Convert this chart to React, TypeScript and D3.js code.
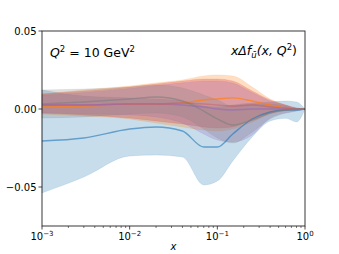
import { useEffect, useRef } from 'react';
import * as d3 from 'd3';

// shared x grid
const xGrid = [1e-3, 3e-3, 1e-2, 2e-2, 4e-2, 7e-2, 1e-1, 0.15, 0.25, 0.4, 0.6, 0.8, 1];

const blueUp = [0.0122, 0.0083, 0.0071, 0.0064, 0.0051, 0.0019, 0.0013, 0.0026, 0.0038, 0.0045, 0.0051, 0.0045, 0];
const blueMid = [-0.0205, -0.0186, -0.0128, -0.0115, -0.0141, -0.0244, -0.0244, -0.016, -0.0064, -0.0019, -0.0006, -0.0006, 0];
const blueLo = [-0.0538, -0.0436, -0.0301, -0.0295, -0.0308, -0.0487, -0.0462, -0.0333, -0.0179, -0.0077, -0.006, -0.0083, 0];

const orangeUp = [0.0096, 0.0122, 0.0147, 0.0167, 0.0186, 0.0212, 0.0218, 0.0212, 0.0141, 0.0064, 0.0026, 0.0006, 0];
const orangeMid = [0.0013, 0.0019, 0.0026, 0.0026, 0.0038, 0.0058, 0.0064, 0.0071, 0.0051, 0.0026, 0.0006, 0, 0];
const orangeLo = [-0.0032, -0.0045, -0.0064, -0.009, -0.0115, -0.0135, -0.0141, -0.0128, -0.0083, -0.0032, -0.0013, -0.0006, 0];

const redUp = [0.0096, 0.0115, 0.0141, 0.016, 0.0179, 0.0192, 0.0192, 0.0179, 0.0115, 0.0058, 0.0026, 0.0006, 0];
const redMid = [0.0026, 0.0026, 0.0032, 0.0032, 0.0038, 0.0032, 0.0026, 0.0019, 0.0026, 0.0013, 0.0006, 0, 0];
const redLo = [-0.0026, -0.0038, -0.0058, -0.0077, -0.0096, -0.0115, -0.0122, -0.0115, -0.0064, -0.0026, -0.0006, -0.0003, 0];

const purpleUp = [0.0088, 0.0106, 0.0132, 0.0150, 0.0168, 0.0180, 0.0180, 0.0166, 0.0105, 0.0052, 0.0024, 0.0005, 0];
const purpleMid = [0.0026, 0.0026, 0.0032, 0.0032, 0.0026, 0.0013, 0, -0.0006, 0, 0, 0, 0, 0];
const purpleLo = [-0.0026, -0.0032, -0.0038, -0.0051, -0.009, -0.016, -0.0199, -0.0212, -0.0167, -0.0058, -0.0026, -0.0013, 0];

const grayUp = [0.0122, 0.0128, 0.0141, 0.0154, 0.0135, 0.009, 0.0058, 0.0019, 0.0032, 0.0032, 0.0019, 0.0006, 0];
const grayMid = [0.0032, 0.0045, 0.0064, 0.0077, 0.0051, -0.0013, -0.0064, -0.0103, -0.0071, -0.0026, -0.0006, 0, 0];
const grayLo = [-0.0058, -0.0051, -0.0032, -0.0026, -0.0051, -0.0128, -0.0186, -0.0218, -0.0147, -0.0064, -0.0026, -0.0013, 0];

const yTicks = [-0.05, 0, 0.05];
const xTicks = [1e-3, 1e-2, 1e-1, 1];
const xTickExp = ['−3', '−2', '−1', '0'];

const bands = [
  { color: '#1f77b4', up: blueUp, mid: blueMid, lo: blueLo, lineOp: 0.6 },
  { color: '#ff7f0e', up: orangeUp, mid: orangeMid, lo: orangeLo, lineOp: 0.7 },
  { color: '#d62728', up: redUp, mid: redMid, lo: redLo, lineOp: 0.25 },
  { color: '#9467bd', up: purpleUp, mid: purpleMid, lo: purpleLo, lineOp: 0.6 },
  { color: '#7f7f7f', up: grayUp, mid: grayMid, lo: grayLo, lineOp: 0.6 },
];

export default function App() {
  const ref = useRef<SVGSVGElement>(null);

  useEffect(() => {
    const svg = d3.select(ref.current);
    svg.selectAll('*').remove();

    const margin = { left: 42, right: 34, top: 31, bottom: 28 };
    const W = 339, H = 254;

    const x = d3.scaleLog().domain([1e-3, 1]).range([margin.left, W - margin.right]);
    const y = d3.scaleLinear().domain([-0.075, 0.05]).range([H - margin.bottom, margin.top]);

    const plot = svg.append('g');

    bands.forEach(b => {
      const area = d3.area<number>()
        .x((d, i) => x(xGrid[i]))
        .y0((d, i) => y(b.lo[i]))
        .y1((d, i) => y(b.up[i]))
        .curve(d3.curveMonotoneX);
      plot.append('path')
        .attr('d', area(xGrid))
        .attr('fill', b.color)
        .attr('fill-opacity', 0.25)
        .attr('stroke', b.color)
        .attr('stroke-opacity', 0.15)
        .attr('stroke-width', 0.8);
    });

    bands.forEach(b => {
      const line = d3.line<number>()
        .x((d, i) => x(xGrid[i]))
        .y((d, i) => y(b.mid[i]))
        .curve(d3.curveMonotoneX);
      plot.append('path')
        .attr('d', line(xGrid))
        .attr('fill', 'none')
        .attr('stroke', b.color)
        .attr('stroke-opacity', b.lineOp)
        .attr('stroke-width', 1.4);
    });

    // frame
    svg.append('rect')
      .attr('x', margin.left)
      .attr('y', margin.top)
      .attr('width', W - margin.left - margin.right)
      .attr('height', H - margin.top - margin.bottom)
      .attr('fill', 'none')
      .attr('stroke', '#222')
      .attr('stroke-width', 0.9);

    const font = 'DejaVu Sans, sans-serif';

    // y axis
    const yAx = svg.append('g');
    yTicks.forEach(t => {
      yAx.append('line')
        .attr('x1', margin.left - 3.5).attr('x2', margin.left)
        .attr('y1', y(t)).attr('y2', y(t))
        .attr('stroke', '#222').attr('stroke-width', 0.8);
      yAx.append('text')
        .attr('x', margin.left - 5.5)
        .attr('y', y(t))
        .attr('dy', '0.35em')
        .attr('text-anchor', 'end')
        .attr('font-family', font)
        .attr('font-size', 10)
        .text(t === 0 ? '0.00' : d3.format('.2f')(t).replace('-', '−'));
    });

    // x axis
    const xAx = svg.append('g');
    const yb = H - margin.bottom;
    for (let e = -3; e < 0; e++) {
      for (let k = 2; k <= 9; k++) {
        const v = k * Math.pow(10, e);
        xAx.append('line')
          .attr('x1', x(v)).attr('x2', x(v))
          .attr('y1', yb).attr('y2', yb + 2)
          .attr('stroke', '#222').attr('stroke-width', 0.6);
      }
    }
    xTicks.forEach((t, i) => {
      xAx.append('line')
        .attr('x1', x(t)).attr('x2', x(t))
        .attr('y1', yb).attr('y2', yb + 3.5)
        .attr('stroke', '#222').attr('stroke-width', 0.8);
      const tx = xAx.append('text')
        .attr('x', x(t))
        .attr('y', yb + 14)
        .attr('text-anchor', 'middle')
        .attr('font-family', font)
        .attr('font-size', 10);
      tx.append('tspan').text('10');
      tx.append('tspan').attr('dy', -4).attr('font-size', 7).text(xTickExp[i]);
    });

    svg.append('text')
      .attr('x', (x(1e-3) + x(1)) / 2)
      .attr('y', 250)
      .attr('text-anchor', 'middle')
      .attr('font-family', font)
      .attr('font-style', 'italic')
      .attr('font-size', 10)
      .text('x');

    // annotations
    const t1 = svg.append('text')
      .attr('x', 50).attr('y', 57)
      .attr('font-family', font)
      .attr('font-size', 12.5);
    t1.append('tspan').attr('font-style', 'italic').text('Q');
    t1.append('tspan').attr('dy', -5).attr('font-size', 8.5).text('2');
    t1.append('tspan').attr('dy', 5).text(' = 10 GeV');
    t1.append('tspan').attr('dy', -5).attr('font-size', 8.5).text('2');

    const t2 = svg.append('text')
      .attr('x', 297).attr('y', 55)
      .attr('text-anchor', 'end')
      .attr('font-family', font)
      .attr('font-size', 12.5)
      .attr('font-style', 'italic');
    t2.append('tspan').text('xΔf');
    t2.append('tspan').attr('dy', 3).attr('font-size', 8.5).text('ū');
    t2.append('tspan').attr('dy', -3).text('(x, Q');
    t2.append('tspan').attr('dy', -5).attr('font-size', 8.5).attr('font-style', 'normal').text('2');
    t2.append('tspan').attr('dy', 5).attr('font-style', 'normal').text(')');
  }, []);

  return (
    <div style={{ position: 'absolute', left: 0, top: 0 }}>
      <svg ref={ref} width={339} height={254} style={{ display: 'block', background: '#fff' }} />
    </div>
  );
}
